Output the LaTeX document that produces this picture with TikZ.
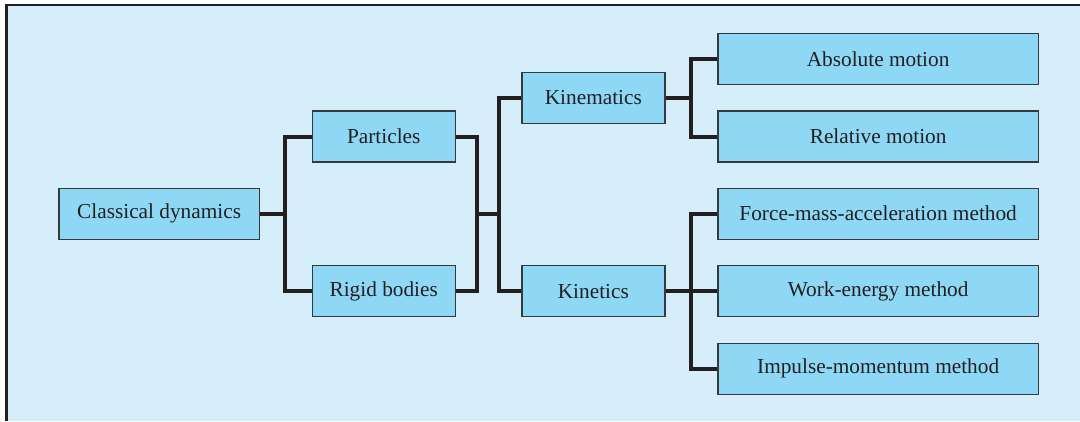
\documentclass[tikz,border=0pt]{standalone}
\usepackage{fontspec}
\setmainfont{Liberation Serif}
\definecolor{bgblue}{RGB}{214,237,250}
\definecolor{boxblue}{RGB}{142,216,246}
\definecolor{boxline}{RGB}{55,57,62}
\definecolor{conn}{RGB}{35,31,32}
\tikzset{
  box/.style={draw=boxline, line width=1.3pt, fill=boxblue, rectangle, minimum height=51pt, inner sep=0pt,
    font=\fontsize{21.3}{25}\selectfont, text=conn},
  smallbox/.style={box, minimum width=143pt},
  widebox/.style={box, minimum width=320.3pt},
  link/.style={draw=conn, line width=4pt, line join=miter, line cap=butt},
}
\begin{document}
\begin{tikzpicture}[x=1pt,y=-1pt]
\useasboundingbox (0,0) rectangle (1080,421);
\fill[white] (0,0) rectangle (1080,421);
\fill[bgblue] (6.5,5) rectangle (1080,421);
\draw[draw=conn, line width=2.2pt] (6.5,421) -- (6.5,5) -- (1080,5);

\node[box, minimum width=200.4pt] (cd) at (159.1,213.7) {Classical dynamics};
\node[smallbox] (pa) at (383.75,136.5) {Particles};
\node[smallbox] (rb) at (383.75,291.3) {Rigid bodies};
\node[smallbox] (km) at (593.35,97.7) {Kinematics};
\node[smallbox] (kt) at (593.35,291.3) {Kinetics};
\node[widebox] (ab) at (878.15,59) {Absolute motion};
\node[widebox] (rm) at (878.15,136.5) {Relative motion};
\node[widebox] (fm) at (878.15,213.7) {Force-mass-acceleration method};
\node[widebox] (we) at (878.15,291.3) {Work-energy method};
\node[widebox] (im) at (878.15,368.7) {Impulse-momentum method};

\coordinate (j1) at (285,213.7);
\coordinate (j2) at (477,213.7);
\coordinate (j3) at (499.3,213.7);
\coordinate (j4) at (690.5,97.7);
\coordinate (j5) at (690.5,291.3);

\draw[link] (cd.east) -- (j1);
\draw[link] (pa.west) -| (j1) |- (rb.west);
\draw[link] (pa.east) -| (j2) |- (rb.east);
\draw[link] (j2) -- (j3);
\draw[link] (km.west) -| (j3) |- (kt.west);
\draw[link] (km.east) -- (j4);
\draw[link] (ab.west) -| (j4) |- (rm.west);
\draw[link] (kt.east) -- (j5);
\draw[link] (fm.west) -| (j5) |- (im.west);
\draw[link] (j5) -- (we.west);
\end{tikzpicture}
\end{document}
